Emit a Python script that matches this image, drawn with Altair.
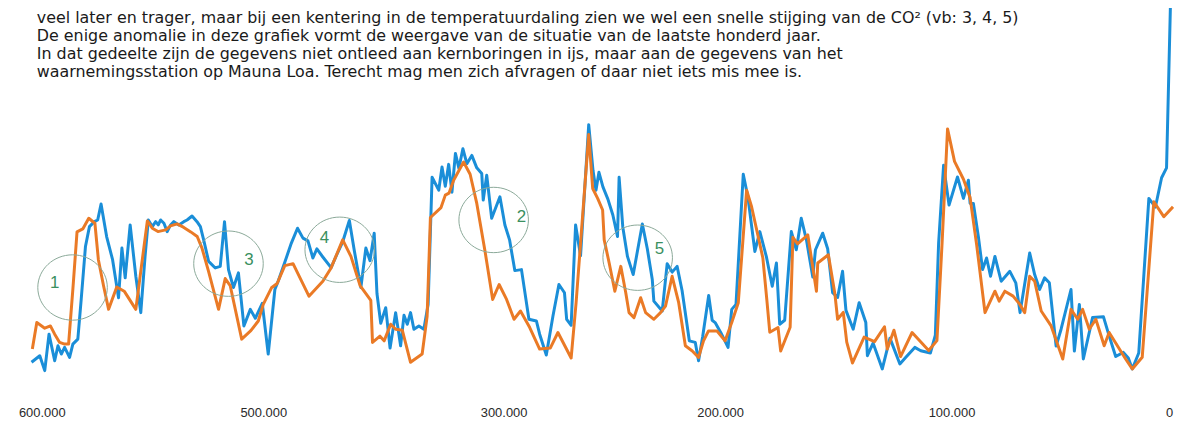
import altair as alt
import pandas as pd

# ---- data (x = position along the time axis, y = level) ----
blue_x = [23.7, 32, 37, 41.3, 47, 50.3, 53.7, 57, 62, 65.3, 70.3, 73.7, 78, 82, 87, 90.3, 93.7, 99.3, 105.3, 111.3,
          114.7, 118, 123, 128.7, 133.7, 138, 141.3, 145.3, 148.7, 151.3, 153.7, 157, 160.3, 163.7, 167, 172, 177, 180.3, 185.3, 190.3,
          193.7, 197, 202, 208.7, 213.7, 218, 222, 227, 232, 237.5, 244, 249, 256, 262, 268.7, 272, 278.7, 285.3, 291.5, 297,
          302, 307, 311, 316, 325.3, 331, 337, 343.7, 348.7, 355.3, 360.3, 364.5, 368.7, 371.5, 375.3, 380.3, 384.7, 390.3, 395.3, 398.7,
          402, 405.3, 408.7, 413.7, 418.7, 423, 427, 433.7, 437, 440.3, 443.7, 447, 450.5, 454, 458, 462, 467, 472, 477, 478.5,
          482, 487, 495.3, 500.3, 505, 510.3, 517, 524.5, 532, 535.3, 542, 548.7, 554.7, 560.3, 562.5, 567, 571.5, 576.5, 584.7, 589,
          592, 595, 599, 604, 609, 613.7, 615.3, 619, 623.7, 629.5, 638.7, 643.7, 648.7, 650.3, 658.7, 663.7, 668.7, 673.7, 678.7, 686,
          692, 695.3, 699.5, 705.5, 709, 712, 718, 725, 728.7, 733, 740.3, 745, 752, 757, 763.7, 769.5, 773.7, 777, 782, 788.7,
          793.7, 798.7, 804, 810.3, 813, 820.3, 825.3, 830.3, 835.3, 840.3, 843.7, 851, 857, 863.7, 865.3, 871, 880.3, 888, 898, 904,
          913, 919, 928.7, 933.7, 937, 942, 947.5, 956, 962, 967, 968.7, 972, 977, 981.3, 985.3, 989.3, 993.7, 1000, 1008.7, 1014.7,
          1019, 1028.7, 1033.7, 1038.7, 1043.7, 1048.5, 1055.3, 1060.3, 1070.3, 1073.7, 1078.7, 1082.7, 1092, 1103, 1108.7, 1115.3, 1123, 1128, 1132, 1138.5,
          1148.7, 1155.3, 1161.5, 1166.5, 1170.5]
blue_y = [24.7, 31.3, 16.3, 53, 26.3, 41.3, 33, 39.7, 29.7, 43, 48, 88, 141.3, 161.3, 166.3, 168, 184, 151.3, 128, 89.7,
          139.7, 109.7, 163, 111.3, 74.7, 131.3, 168, 161.3, 166.3, 163, 168, 164.7, 156.3, 163, 166.3, 163, 166.3, 168, 172, 166.3,
          161.3, 148, 126.3, 119.7, 121.3, 166.3, 118, 100, 114.7, 61.3, 78, 69, 84, 33, 98, 106.3, 125.5, 144.7, 159.7, 149.7,
          147, 129.7, 139, 132, 120, 133, 146, 167.5, 137, 100, 139.7, 127, 154.7, 94, 64, 79.7, 39, 74.7, 41.3, 72,
          63, 74.7, 58, 61.3, 58, 83, 211, 198, 221.3, 202, 224, 196, 235, 220, 239.7, 224.7, 233, 220.5, 214.7, 188,
          213, 169.7, 191.3, 163, 148, 117, 118, 68, 66.3, 53, 32, 71.3, 103, 94.7, 68, 62, 163, 132, 264, 218,
          198, 216, 201.3, 189, 173, 151.3, 211, 161, 131.3, 113, 164, 139, 108, 86.3, 76.3, 124, 115.5, 121.3, 97, 46.3,
          44.7, 26.3, 51, 92, 67, 64.7, 54, 39.7, 78, 83, 214, 191, 136.3, 156.3, 130.5, 101.3, 124.7, 63, 67, 156.3,
          138, 169.7, 147.5, 110.5, 138, 154.7, 139, 94.7, 90, 116.3, 77, 58, 84.7, 64.7, 31.3, 44, 18, 49, 23, 29.7,
          39.7, 36.3, 34, 52, 144.7, 223, 183, 211.3, 189.7, 208, 184.7, 184.7, 151.3, 118, 129.7, 111.3, 131.3, 106.3, 116.3, 104.7,
          74.7, 134.7, 113, 98, 109.7, 104.7, 41, 58, 98, 36, 83, 28, 69.7, 70.5, 51.3, 30.5, 34.7, 29, 18, 34,
          189.7, 181, 210.5, 220.5, 388]

orange_x = [24.5, 29, 37, 42.7, 47, 52, 57, 61, 65.3, 69.5, 75.3, 81.3, 87.5, 91, 96.3, 101.3, 109.5, 117, 128.7, 140.3,
            145.3, 151, 158.7, 163.7, 170.3, 177, 184, 190.5, 195.3, 202, 212, 218.7, 223.7, 235.3, 244.5, 252, 257, 265.3, 271, 278.7,
            287, 303, 317, 325.3, 337, 345.3, 354.5, 365.3, 367, 374.5, 378.7, 385.3, 390.3, 397, 405.3, 417, 422, 425.3, 436, 440.3,
            444, 448.7, 458.7, 465.3, 472, 480.3, 488, 494.5, 502, 509.5, 516, 525.3, 535.3, 546, 553.7, 567, 572, 584.7, 588.7, 593.7,
            598.7, 600.3, 605.3, 611, 617, 622, 625.3, 630.3, 637, 642, 650.3, 657, 662, 668.7, 675.3, 682, 688.7, 695.3, 700.3, 705.3,
            713.7, 722, 728.7, 735.3, 743.7, 748.7, 755.3, 760, 764, 767, 775.3, 778, 787.5, 790.3, 795, 805.3, 814, 815.3, 826, 832.5,
            835.3, 841, 844.5, 850.3, 862, 872.5, 882.5, 885.3, 892, 898.7, 910.3, 927, 935.3, 940.5, 946, 953, 962, 968.7, 975.3, 983.7,
            993.7, 998, 1003.7, 1012, 1018.7, 1023.7, 1028.7, 1033.7, 1040.3, 1050.3, 1062, 1070.3, 1077, 1082, 1088.7, 1095.3, 1103.7, 1108.7, 1125.3, 1132,
            1142, 1153.7, 1163.7, 1173]
orange_y = [38, 64.7, 59, 61.3, 53, 44.7, 43, 43, 98, 156, 159, 169.7, 164.7, 128, 101.3, 78, 100.5, 96.3, 78, 167,
            159.7, 156.3, 158, 162, 164, 160.5, 156, 151.3, 139.7, 116, 78, 109, 102, 48, 56.5, 66.3, 83, 99.7, 104, 122,
            124, 91.3, 106.3, 119.7, 148, 131.3, 102, 87, 44.7, 51, 46.3, 63, 58, 57, 24.7, 33, 71, 170.5, 180.5, 193,
            195, 208, 226.3, 214, 184.7, 136.5, 88, 103, 88, 68, 76.3, 59.7, 38, 39, 54.7, 29, 84.7, 254, 199.7, 189.7,
            178, 148, 124.7, 96.3, 121.3, 94.7, 74.7, 69.7, 89.7, 74.7, 68, 74.7, 81.3, 111.3, 84.7, 41.3, 36.3, 29.7, 46.3, 56.3,
            56.3, 46.3, 64.7, 84.7, 198, 181.3, 151.3, 130, 88, 55, 59.7, 36, 60, 150.5, 144, 153, 96.3, 124.7, 133, 94,
            68, 75, 45, 24, 50, 45.5, 60.5, 38, 57, 30.5, 54.7, 36.5, 46.5, 145, 259.7, 227, 209, 190.5, 143, 74.7,
            96.3, 86.3, 96.3, 91.3, 83, 74.7, 111.3, 106.3, 76.3, 61.3, 28, 78, 68, 78, 58, 68, 41.3, 54.7, 28, 18,
            29.7, 186.3, 171.3, 181.3]

series_names = ["CO2", "Temperatuur"]
series_colors = ["#1a8ed8", "#ea7a26"]

# axis labels
tick_pos = [34, 257, 499, 717, 950, 1169]
tick_labels = ["600.000", "500.000", "300.000", "200.000", "100.000", "0"]

# header text
text_lines = [
    "veel later en trager, maar bij een kentering in de temperatuurdaling zien we wel een snelle stijging van de CO\u00b2 (vb: 3, 4, 5)",
    "De enige anomalie in deze grafiek vormt de weergave van de situatie van de laatste honderd jaar.",
    "In dat gedeelte zijn de gegevens niet ontleed aan kernboringen in ijs, maar aan de gegevens van het",
    "waarnemingsstation op Mauna Loa. Terecht mag men zich afvragen of daar niet iets mis mee is.",
]
text_x = [29, 29, 29, 29]
text_y = [366, 348, 330, 312]

# annotation circles and numbers
circle_x = [65, 222, 334, 489, 634]
circle_y = [100, 124, 138, 168, 130]
num_label = ["1", "3", "4", "2", "5"]
num_x = [47, 242.7, 318.7, 517, 656]
num_y = [104.7, 128, 149.7, 170.7, 138.7]

# ---- build tables ----
lines_df = pd.concat([
    pd.DataFrame({"x": blue_x, "y": blue_y, "reeks": series_names[0], "o": range(len(blue_x))}),
    pd.DataFrame({"x": orange_x, "y": orange_y, "reeks": series_names[1], "o": range(len(orange_x))}),
])
text_df = pd.DataFrame({"x": text_x, "y": text_y, "t": text_lines})
circ_df = pd.DataFrame({"x": circle_x, "y": circle_y})
num_df = pd.DataFrame({"x": num_x, "y": num_y, "t": num_label})

label_expr = " : ".join(
    f"datum.value == {p} ? '{l}'" for p, l in zip(tick_pos, tick_labels)
) + " : ''"

xscale = alt.Scale(domain=[0, 1174], nice=False, zero=False)
yscale = alt.Scale(domain=[0, 380], nice=False, zero=False)
xaxis = alt.Axis(values=tick_pos, labelExpr=label_expr, domain=False, ticks=False, grid=False,
                 labelFont="Liberation Sans", labelFontSize=13, labelColor="#2a2a2a",
                 labelPadding=20, labelFlush=False, labelOverlap=False, title=None)

lines = alt.Chart(lines_df).mark_line(strokeWidth=3, strokeJoin="round").encode(
    x=alt.X("x:Q", scale=xscale, axis=xaxis),
    y=alt.Y("y:Q", scale=yscale, axis=None),
    color=alt.Color("reeks:N", scale=alt.Scale(domain=series_names, range=series_colors), legend=None),
    order="o:Q",
)

ellipse = "M -1 0 A 1 0.94 0 1 1 1 0 A 1 0.94 0 1 1 -1 0 Z"
circles = alt.Chart(circ_df).mark_point(shape=ellipse, size=4900, filled=False,
                                         stroke="#8aa898", strokeWidth=1, opacity=1).encode(
    x=alt.X("x:Q", scale=xscale), y=alt.Y("y:Q", scale=yscale))

nums = alt.Chart(num_df).mark_text(font="Liberation Sans", fontSize=17, color="#3a9060",
                                   baseline="middle", align="center").encode(
    x=alt.X("x:Q", scale=xscale), y=alt.Y("y:Q", scale=yscale), text="t:N")

header = alt.Chart(text_df).mark_text(font="DejaVu Sans", fontSize=16, color="#1a1a1a",
                                      baseline="alphabetic", align="left").encode(
    x=alt.X("x:Q", scale=xscale), y=alt.Y("y:Q", scale=yscale), text="t:N")

chart = alt.layer(lines, circles, nums, header).properties(
    width=1174, height=380,
    padding={"left": 0, "top": 0, "right": 0, "bottom": 34},
    autosize=alt.AutoSizeParams(type="none"),
    background="white",
).configure_view(stroke=None)

chart.save("out.html", embed_options={"renderer": "svg", "actions": False})
